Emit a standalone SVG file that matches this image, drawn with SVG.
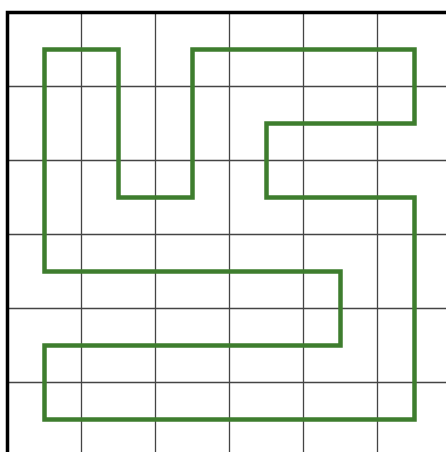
<svg xmlns="http://www.w3.org/2000/svg" width="446" height="452" viewBox="0 0 446 452">
<style>
.grid{stroke:#444;stroke-width:1.3;fill:none}
.border{stroke:#000;stroke-width:3.5;fill:none}
.route{stroke:#3e7d2e;stroke-width:4.5;fill:none;stroke-linejoin:miter}
</style>
<rect width="446" height="452" fill="#fff"/>
<g id="grid" class="grid">
<path d="M81.5 12.5V452M155.5 12.5V452M229.5 12.5V452M303.5 12.5V452M377.5 12.5V452"/>
<path d="M7.5 86.5H446M7.5 160.5H446M7.5 234.5H446M7.5 308.5H446M7.5 382.5H446"/>
</g>
<g id="border" class="border">
<path d="M7.5 452V12.5H446"/>
</g>
<g id="connectors">
<path class="route" d="M44.5 49.5H118.5V197.5H192.5V49.5H414.5V123.5H266.5V197.5H414.5V419.5H44.5V345.5H340.5V271.5H44.5Z"/>
</g>
</svg>
